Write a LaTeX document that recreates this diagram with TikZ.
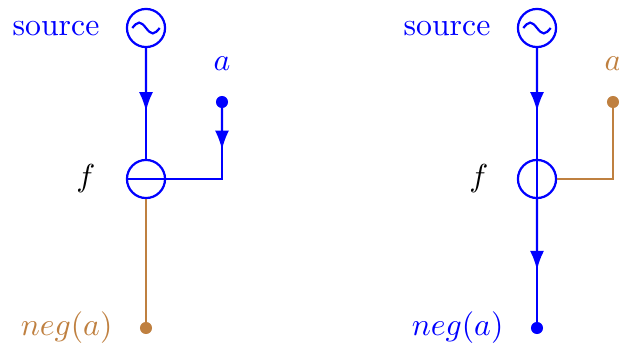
\documentclass[tikz,border=0pt]{standalone}
\usetikzlibrary{arrows.meta,calc}
\definecolor{wire}{RGB}{0,0,255}
\definecolor{ochre}{RGB}{191,128,64}
\tikzset{
  u/.style={x=0.315pt,y=-0.315pt},
  bw/.style={draw=wire,line width=0.7pt},
  ow/.style={draw=ochre,line width=0.55pt},
  circ/.style={circle,draw=wire,line width=0.7pt,minimum size=12pt,inner sep=0pt},
  bdot/.style={circle,fill=wire,minimum size=3.8pt,inner sep=0pt},
  odot/.style={circle,fill=ochre,minimum size=3.8pt,inner sep=0pt},
  tip/.style={-{Latex[length=6pt,width=4.4pt]}},
  wave/.style={draw=wire,line width=0.7pt},
  lbl/.style={inner sep=0pt,font=\fontsize{10}{12}\selectfont},
}
\newcommand{\srcwave}[1]{\draw[wave] ([xshift=-4.3pt]#1.center) sin ([xshift=-2.15pt,yshift=1.7pt]#1.center) cos (#1.center) sin ([xshift=2.15pt,yshift=-1.7pt]#1.center) cos ([xshift=4.3pt]#1.center);}
\begin{document}
\begin{tikzpicture}[u]
\useasboundingbox (0,0) rectangle (619,350);
% ---------- left ----------
\node[circ] (s1) at (146,28) {};
\srcwave{s1}
\node[circ] (f1) at (146,179) {};
\draw[bw] (f1.west) -- (f1.east);
\node[bdot] (a1) at (222,102) {};
\coordinate (c1) at (222,179);
\node[odot] (n1) at (146,328) {};
\node[lbl,text=wire,anchor=base east] (ls1) at (100,35) {source};
\node[lbl,anchor=east] (lf1) at (96,179) {$f$};
\node[lbl,text=wire] (la1) at (222,64) {$a$};
\node[lbl,text=ochre,anchor=east] (ln1) at (113,328) {$neg(a)$};
\draw[bw] (s1.south) -- (f1.north);
\draw[bw,tip] (s1.south) -- ($(s1.south)!0.57!(f1.north)$);
\draw[bw] (a1.center) -- (c1) -- (f1.east);
\draw[bw,tip] (a1.center) -- ($(a1.center)!0.62!(c1)$);
\draw[ow] (f1.south) -- (n1.center);
% ---------- right ----------
\node[circ] (s2) at (537,28) {};
\srcwave{s2}
\node[circ] (f2) at (537,179) {};
\draw[bw] (f2.north) -- (f2.south);
\node[odot] (a2) at (613,102) {};
\coordinate (c2) at (613,179);
\node[bdot] (n2) at (537,328) {};
\node[lbl,text=wire,anchor=base east] (ls2) at (491,35) {source};
\node[lbl,anchor=east] (lf2) at (489,179) {$f$};
\node[lbl,text=ochre] (la2) at (613,64) {$a$};
\node[lbl,text=wire,anchor=east] (ln2) at (504,328) {$neg(a)$};
\draw[bw] (s2.south) -- (f2.north);
\draw[bw,tip] (s2.south) -- ($(s2.south)!0.57!(f2.north)$);
\draw[ow] (a2.center) -- (c2) -- (f2.east);
\draw[bw] (f2.south) -- (n2.center);
\draw[bw,tip] (f2.south) -- ($(f2.south)!0.55!(n2.center)$);
\end{tikzpicture}
\end{document}
